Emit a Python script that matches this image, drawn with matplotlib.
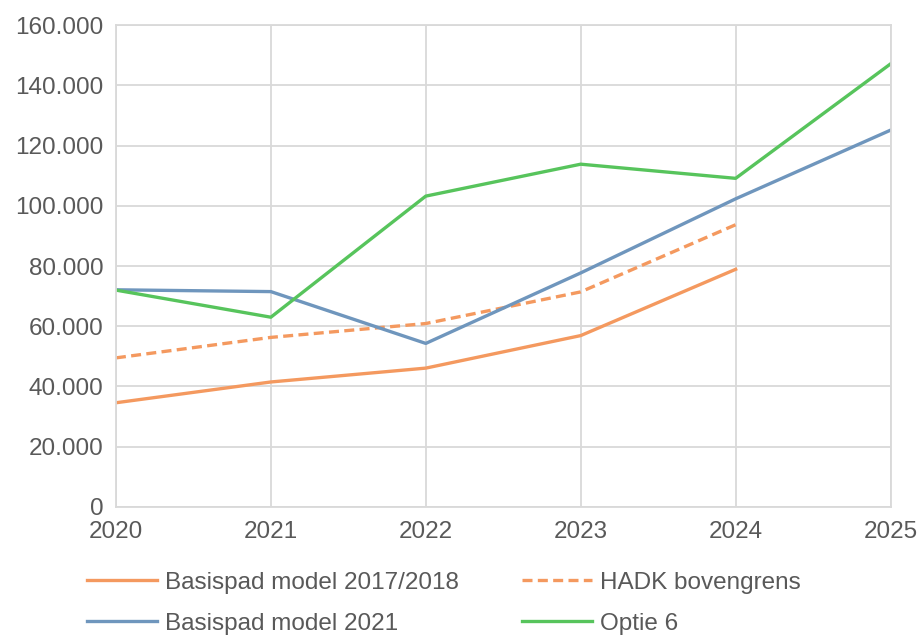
import matplotlib
matplotlib.use('Agg')
import matplotlib.pyplot as plt
from matplotlib.ticker import FuncFormatter

plt.rcParams['font.family'] = ['Liberation Sans', 'DejaVu Sans']

years = [2020, 2021, 2022, 2023, 2024, 2025]
basis_1718 = [34600, 41500, 46100, 56900, 78900]
hadk_boven = [49500, 56300, 60900, 71400, 93700]
basis_2021 = [72100, 71500, 54300, 77700, 102300, 125100]
optie_6 = [72000, 63000, 103200, 113800, 109100, 147100]

orange = '#F4995F'
blue = '#6F96BD'
green = '#57C45C'
grey_txt = '#595959'
grid_col = '#D9D9D9'

fig = plt.figure(figsize=(9.2, 6.35), dpi=100)
ax = fig.add_axes([0.126, 0.2016, 0.842, 0.7590])

lw = 2.4
l1, = ax.plot(years[:5], basis_1718, color=orange, lw=lw, label='Basispad model 2017/2018')
l2, = ax.plot(years[:5], hadk_boven, color=orange, lw=lw, ls=(0, (3, 1.6)), label='HADK bovengrens')
l3, = ax.plot(years, basis_2021, color=blue, lw=lw, label='Basispad model 2021')
l4, = ax.plot(years, optie_6, color=green, lw=lw, label='Optie 6')

ax.set_xlim(2020, 2025)
ax.set_ylim(0, 160000)
ax.set_xticks(years)
ax.set_yticks(range(0, 160001, 20000))
ax.yaxis.set_major_formatter(FuncFormatter(lambda v, p: f'{int(v):,}'.replace(',', '.')))

ax.grid(True, color=grid_col, lw=1.3)
ax.set_axisbelow(True)
for s in ax.spines.values():
    s.set_color(grid_col)
    s.set_linewidth(1.3)
ax.tick_params(length=0, labelsize=17.5, labelcolor=grey_txt)
ax.tick_params(axis='y', pad=9)
ax.tick_params(axis='x', pad=10)

# order so rows read: 2017/2018 | HADK, 2021 | Optie 6
handles = [l1, l3, l2, l4]
leg = fig.legend(handles, [h.get_label() for h in handles],
                 loc='upper left', bbox_to_anchor=(87 / 920, 0.100), ncol=2, frameon=False,
                 fontsize=17.5, handlelength=2.9, columnspacing=2.6, labelspacing=0.8,
                 handletextpad=0.3, borderpad=0, borderaxespad=0)
for t in leg.get_texts():
    t.set_color(grey_txt)

fig.savefig('out.png', dpi=100)
